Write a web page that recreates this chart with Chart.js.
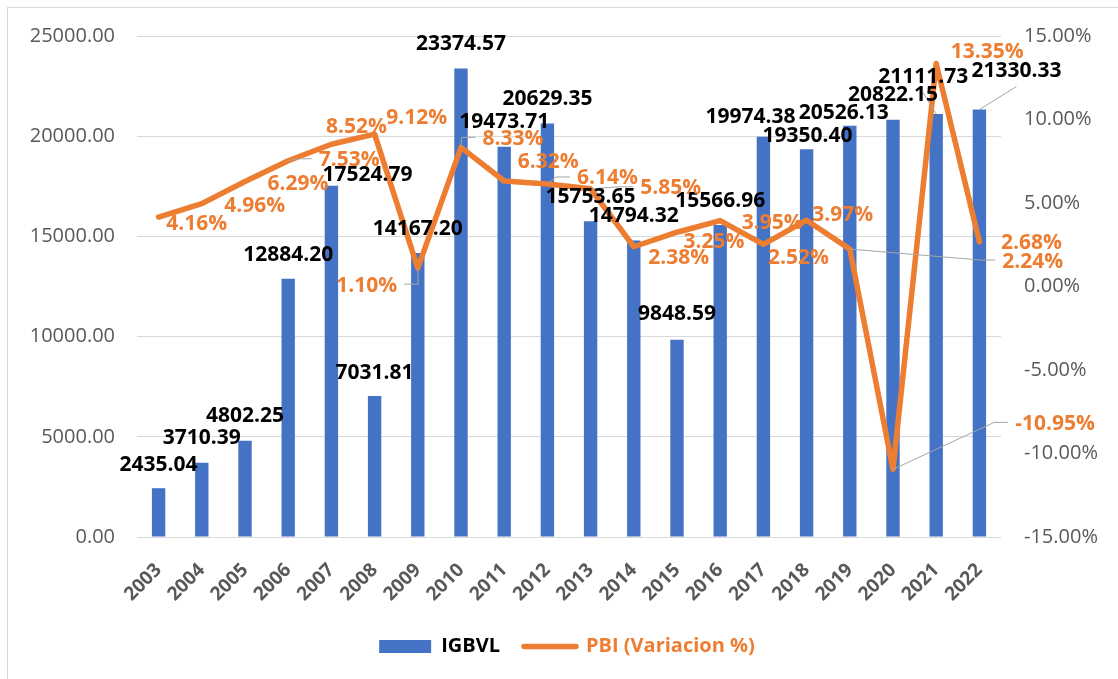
<!DOCTYPE html>
<html>
<head>
<meta charset="utf-8">
<script src="https://cdn.jsdelivr.net/npm/chart.js@4.4.1/dist/chart.umd.min.js"></script>
<style>
html,body{margin:0;padding:0;background:#fff;}
#c{display:block;}
</style>
</head>
<body>
<canvas id="c" width="1118" height="679"></canvas>
<script>
// ---- data ----
const years = ['2003','2004','2005','2006','2007','2008','2009','2010','2011','2012','2013','2014','2015','2016','2017','2018','2019','2020','2021','2022'];
const igbvl = [2435.04, 3710.39, 4802.25, 12884.20, 17524.79, 7031.81, 14167.20, 23374.57, 19473.71, 20629.35, 15753.65, 14794.32, 9848.59, 15566.96, 19974.38, 19350.40, 20526.13, 20822.15, 21111.73, 21330.33];
const pbi = [4.16, 4.96, 6.29, 7.53, 8.52, 9.12, 1.10, 8.33, 6.32, 6.14, 5.85, 2.38, 3.25, 3.95, 2.52, 3.97, 2.24, -10.95, 13.35, 2.68];
const seriesNames = ['IGBVL', 'PBI (Variacion %)'];
const leftAxis = [0, 25000, 5000];   // min, max, step
const rightAxis = [-15, 15, 5];      // min, max, step (%)

// ---- label placement (style, not data): offset of label centre from the mark ----
const barLabelShift = [[0,-25],[0,-26],[0,-26],[0,-25],[36,-12],[0,-25],[0,-26],[0,-26],[0,-26],[0,-26],[0,-26],[0,-26],[0,-27],[0,-26],[-13,-21],[1,-15],[-6,-14],[0,-26],[-13,-38],[37,-40]];
const barLeader = [18, 19];
const lineLabelShift = [[38,5],[53,1],[53,1],[61,-2],[25,-19],[42,-18],[-51,16],[52,-10],[44,-20],[60,-7],[80,-2],[45,10],[37,8],[52,1],[35,12],[36,-7],[183,11],[162,-47],[51,-13],[52,0]];
const lineLeader = [3, 6, 7, 9, 10, 16, 17];

const BLUE = '#4472C4', ORANGE = '#ED7D31', GREY_TXT = '#595959', GRID = '#D9D9D9', LEADER = '#A6A6A6';
const FONT = '"Open Sans", "Noto Sans", sans-serif';

const framePlugin = {
  id: 'frame',
  beforeDraw(chart) {
    const ctx = chart.ctx;
    ctx.save();
    ctx.fillStyle = '#fff';
    ctx.fillRect(0, 0, chart.width, chart.height);
    ctx.strokeStyle = GRID;
    ctx.lineWidth = 1;
    ctx.strokeRect(7.5, 7.5, chart.width + 50, chart.height + 50);
    ctx.restore();
  }
};

const labelPlugin = {
  id: 'pointLabels',
  afterDatasetsDraw(chart) {
    const ctx = chart.ctx;
    const fs = 21;
    ctx.save();
    ctx.font = 'bold ' + fs + 'px ' + FONT;
    const items = [];
    const barMeta = chart.getDatasetMeta(0);
    const lineMeta = chart.getDatasetMeta(1);
    barMeta.data.forEach((el, i) => {
      const text = igbvl[i].toFixed(2);
      items.push({el, text, color: '#000', cx: el.x + barLabelShift[i][0], cy: el.y + barLabelShift[i][1],
                  w: ctx.measureText(text).width, leader: barLeader.includes(i)});
    });
    lineMeta.data.forEach((el, i) => {
      const text = pbi[i].toFixed(2) + '%';
      items.push({el, text, color: ORANGE, cx: el.x + lineLabelShift[i][0], cy: el.y + lineLabelShift[i][1],
                  w: ctx.measureText(text).width, leader: lineLeader.includes(i)});
    });
    // leader lines
    ctx.strokeStyle = LEADER;
    ctx.lineWidth = 1;
    items.filter(it => it.leader).forEach(it => {
      ctx.beginPath();
      ctx.moveTo(it.el.x, it.el.y);
      if (Math.abs(it.cx - it.el.x) > it.w / 2) {
        const dir = it.cx > it.el.x ? 1 : -1;
        const ax = it.cx - dir * (it.w / 2 + 7);
        const ex = ax - dir * 14;
        ctx.lineTo(ex, it.cy);
        ctx.lineTo(ax, it.cy);
      } else {
        ctx.lineTo(it.cx, it.cy + 17);
      }
      ctx.stroke();
    });
    // texts
    ctx.textAlign = 'center';
    ctx.textBaseline = 'alphabetic';
    items.forEach(it => {
      ctx.fillStyle = it.color;
      ctx.fillText(it.text, it.cx, it.cy + fs * 0.357);
    });
    ctx.restore();
  }
};

new Chart(document.getElementById('c'), {
  data: {
    labels: years,
    datasets: [
      {
        type: 'bar', label: seriesNames[0], data: igbvl, yAxisID: 'y',
        backgroundColor: BLUE, borderWidth: 0,
        barPercentage: 0.31, categoryPercentage: 1.0, order: 2
      },
      {
        type: 'line', label: seriesNames[1], data: pbi, yAxisID: 'y1',
        borderColor: ORANGE, backgroundColor: ORANGE, borderWidth: 5.5,
        pointRadius: 0, tension: 0, fill: false,
        borderCapStyle: 'round', borderJoinStyle: 'round', order: 1
      }
    ]
  },
  options: {
    responsive: false,
    maintainAspectRatio: false,
    animation: false,
    devicePixelRatio: 1,
    events: [],
    layout: { padding: { left: 16, right: 0, top: 36, bottom: 12.5 } },
    scales: {
      x: {
        grid: { display: false, drawTicks: false },
        border: { display: false },
        ticks: {
          color: GREY_TXT, font: { family: FONT, size: 19, weight: 'bold' },
          maxRotation: 45, minRotation: 45, padding: 22, autoSkip: false
        },
        afterFit(s) { s.height = 75.5; }
      },
      y: {
        position: 'left',
        min: leftAxis[0], max: leftAxis[1],
        grid: { color: GRID, lineWidth: 1, drawTicks: false },
        border: { display: false },
        ticks: {
          stepSize: leftAxis[2], padding: 22, color: GREY_TXT,
          font: { family: FONT, size: 20 },
          callback: v => Number(v).toFixed(2)
        },
        afterFit(s) { s.width = 121; }
      },
      y1: {
        position: 'right',
        min: rightAxis[0], max: rightAxis[1],
        grid: { display: false, drawTicks: false },
        border: { display: false },
        ticks: {
          stepSize: rightAxis[2], padding: 23, color: GREY_TXT,
          font: { family: FONT, size: 20 },
          callback: v => Number(v).toFixed(2) + '%'
        },
        afterFit(s) { s.width = 117; }
      }
    },
    plugins: {
      tooltip: { enabled: false },
      legend: {
        position: 'bottom',
        labels: {
          usePointStyle: true, pointStyleWidth: 52, boxHeight: 13, padding: 24,
          font: { family: FONT, size: 20, weight: 'bold' },
          sort: (a, b) => a.datasetIndex - b.datasetIndex,
          generateLabels(chart) {
            const ds = chart.data.datasets;
            return [
              { text: ds[0].label, fillStyle: BLUE, strokeStyle: BLUE, lineWidth: 0, pointStyle: 'rect',
                fontColor: '#000', datasetIndex: 0, hidden: false },
              { text: ds[1].label, fillStyle: ORANGE, strokeStyle: ORANGE, lineWidth: 5.5, pointStyle: 'line',
                lineCap: 'round', fontColor: ORANGE, datasetIndex: 1, hidden: false }
            ];
          }
        }
      }
    }
  },
  plugins: [framePlugin, labelPlugin]
});
</script>
</body>
</html>
